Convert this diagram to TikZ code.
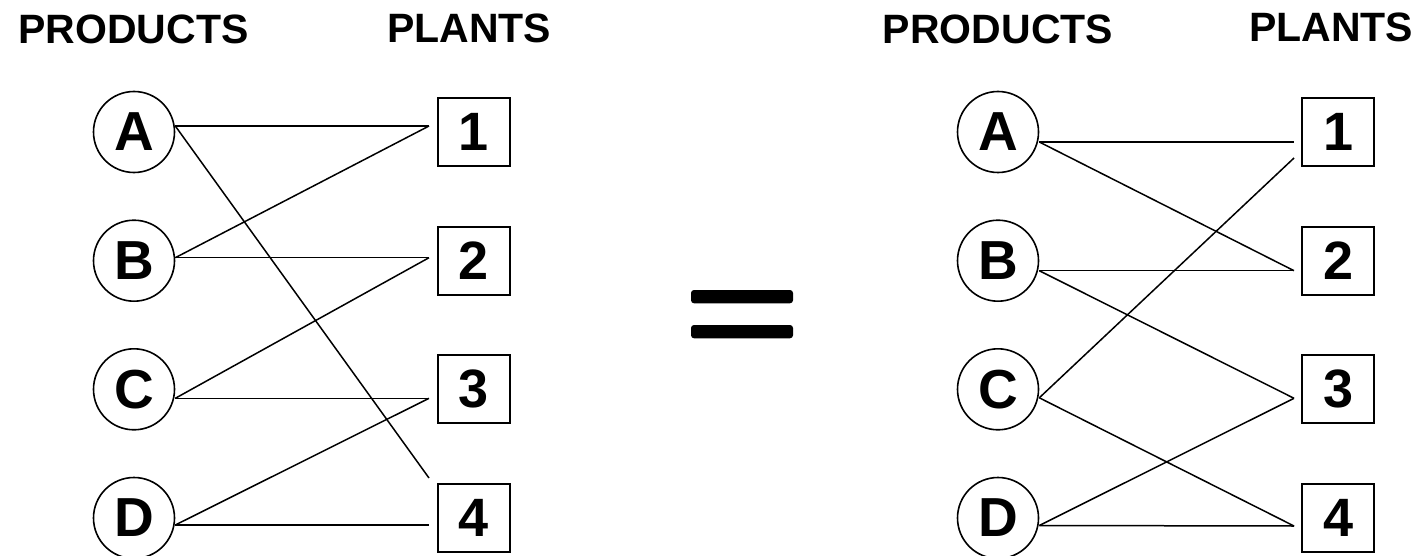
\documentclass[tikz,border=0pt]{standalone}
\usepackage{fontspec}
\setmainfont{Liberation Sans}
\usetikzlibrary{calc}
\begin{document}
\begin{tikzpicture}[x=1pt,y=-1pt,
  heading/.style={font=\fontsize{41}{48}\selectfont\bfseries, inner sep=0pt},
  product/.style={circle, draw, line width=1.6pt, minimum size=81pt, inner sep=0pt,
    font=\fontsize{55}{62}\selectfont\bfseries},
  plant/.style={rectangle, draw, line width=2pt, minimum width=72pt, minimum height=68pt,
    inner sep=0pt, font=\fontsize{54}{62}\selectfont\bfseries},
  link/.style={line width=1.5pt}]
  \useasboundingbox (0,0) rectangle (1423,556);

  % column headings
  \node[heading] (hp1) at (133.5,29.5) {PRODUCTS};
  \node[heading] (hl1) at (469,28.3) {PLANTS};
  \node[heading] (hp2) at (998,29.5) {PRODUCTS};
  \node[heading] (hl2) at (1331,27.5) {PLANTS};

  % first assignment
  \node[product] (lA) at (134,132)   {A};
  \node[product] (lB) at (134,260.7) {B};
  \node[product] (lC) at (134,389.3) {C};
  \node[product] (lD) at (134,518)   {D};
  \node[plant] (l1) at (474,132)   {1};
  \node[plant] (l2) at (474,260.7) {2};
  \node[plant] (l3) at (474,389.3) {3};
  \node[plant] (l4) at (474,518)   {4};

  \coordinate (lAo) at ($(lA.east)+(0,-6)$);
  \coordinate (lBo) at ($(lB.east)+(0,-3)$);
  \coordinate (lCo) at ($(lC.east)+(0,9)$);
  \coordinate (lDo) at ($(lD.east)+(0,7)$);
  \coordinate (l1i) at ($(l1.west)+(-8,-6)$);
  \coordinate (l2i) at ($(l2.west)+(-8,-3)$);
  \coordinate (l3i) at ($(l3.west)+(-8,9)$);
  \coordinate (l4i) at ($(l4.west)+(-8,7)$);
  \coordinate (l4t) at ($(l4.west)+(-8,-40)$);

  \draw[link] (lAo) -- (l1i);
  \draw[link] (lAo) -- (l4t);
  \draw[link] (lBo) -- (l1i);
  \draw[link] (lBo) -- (l2i);
  \draw[link] (lCo) -- (l2i);
  \draw[link] (lCo) -- (l3i);
  \draw[link] (lDo) -- (l3i);
  \draw[link] (lDo) -- (l4i);

  % equals sign
  \fill[rounded corners=3pt] (691,290) rectangle (793,303.3);
  \fill[rounded corners=3pt] (691,325) rectangle (793,338.3);

  % second assignment
  \node[product] (rA) at (998,132)   {A};
  \node[product] (rB) at (998,260.7) {B};
  \node[product] (rC) at (998,389.3) {C};
  \node[product] (rD) at (998,518)   {D};
  \node[plant] (r1) at (1338,132)   {1};
  \node[plant] (r2) at (1338,260.7) {2};
  \node[plant] (r3) at (1338,389.3) {3};
  \node[plant] (r4) at (1338,518)   {4};

  \coordinate (rAo) at ($(rA.east)+(0,10)$);
  \coordinate (rBo) at ($(rB.east)+(0,10)$);
  \coordinate (rCo) at ($(rC.east)+(0,8.5)$);
  \coordinate (rDo) at ($(rD.east)+(0,7.5)$);
  \coordinate (r1i) at ($(r1.west)+(-7,10)$);
  \coordinate (r1l) at ($(r1.west)+(-7,26)$);
  \coordinate (r2i) at ($(r2.west)+(-7,10)$);
  \coordinate (r3i) at ($(r3.west)+(-7,9)$);
  \coordinate (r4i) at ($(r4.west)+(-7,8)$);

  \draw[link] (rAo) -- (r1i);
  \draw[link] (rAo) -- (r2i);
  \draw[link] (rBo) -- (r2i);
  \draw[link] (rBo) -- (r3i);
  \draw[link] (rCo) -- (r1l);
  \draw[link] (rCo) -- (r4i);
  \draw[link] (rDo) -- (r3i);
  \draw[link] (rDo) -- (r4i);
\end{tikzpicture}
\end{document}
